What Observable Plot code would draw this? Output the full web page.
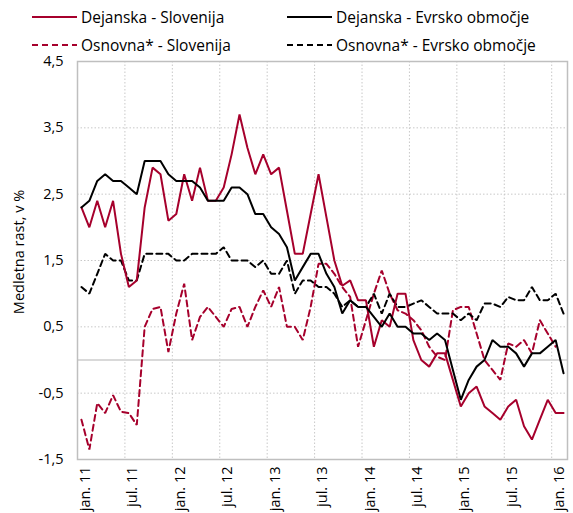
<!DOCTYPE html>
<html>
<head>
<meta charset="utf-8">
<script src="https://cdn.jsdelivr.net/npm/d3@7"></script>
<script src="https://cdn.jsdelivr.net/npm/@observablehq/plot@0.6"></script>
<style>
  body { margin: 0; background: #fff; font-family: "Open Sans", sans-serif; }
  #wrap { position: relative; width: 573px; height: 513px; }
  #legend { position: relative; width: 573px; height: 45px; font-size: 15.5px; color: #000; }
  .item { position: absolute; display: flex; align-items: center; white-space: nowrap; }
  .item svg { margin-right: 4px; }
  #ylabel { position: absolute; left: 18px; top: 252px; transform: translate(-50%, -50%) rotate(-90deg); white-space: nowrap; font-size: 14.5px; color: #000; }
</style>
</head>
<body>
<div id="wrap">
  <div id="legend"></div>
  <div id="chart"></div>
  <div id="ylabel">Medletna rast, v %</div>
</div>
<script>
// Month index 0 = jan. 2011 ... 61 = feb. 2016
const xTickLabels = ["jan. 11","jul. 11","jan. 12","jul. 12","jan. 13","jul. 13","jan. 14","jul. 14","jan. 15","jul. 15","jan. 16"];
const yTicks = [-1.5, -0.5, 0.5, 1.5, 2.5, 3.5, 4.5];

const seriesNames = ["Dejanska - Slovenija", "Dejanska - Evrsko območje", "Osnovna* - Slovenija", "Osnovna* - Evrsko območje"];

const dejanskaSlovenija = [2.3,2.0,2.4,2.0,2.4,1.6,1.1,1.2,2.3,2.9,2.8,2.1,2.2,2.8,2.4,2.9,2.4,2.4,2.6,3.1,3.7,3.2,2.8,3.1,2.8,2.9,2.25,1.6,1.6,2.2,2.8,2.15,1.5,1.12,1.2,0.9,0.9,0.2,0.6,0.5,1.0,1.0,0.3,0.0,-0.1,0.1,0.1,-0.3,-0.7,-0.5,-0.4,-0.7,-0.8,-0.9,-0.7,-0.6,-1.0,-1.2,-0.9,-0.6,-0.8,-0.8];
const dejanskaEvro = [2.3,2.4,2.7,2.8,2.7,2.7,2.6,2.5,3.0,3.0,3.0,2.8,2.7,2.7,2.7,2.6,2.4,2.4,2.4,2.6,2.6,2.5,2.2,2.2,2.0,1.9,1.7,1.2,1.4,1.6,1.6,1.3,1.1,0.7,0.9,0.8,0.8,0.65,0.5,0.7,0.5,0.5,0.4,0.4,0.3,0.4,0.3,-0.15,-0.6,-0.3,-0.1,0.0,0.3,0.2,0.2,0.1,-0.1,0.1,0.1,0.2,0.3,-0.2];
const osnovnaSlovenija = [-0.9,-1.35,-0.65,-0.8,-0.53,-0.78,-0.8,-0.98,0.5,0.77,0.8,0.12,0.7,1.15,0.3,0.65,0.8,0.65,0.5,0.77,0.8,0.5,0.8,1.05,0.8,1.1,0.5,0.5,0.3,0.8,1.45,1.45,1.3,1.1,0.95,0.2,0.6,1.0,1.35,1.0,0.75,0.7,0.6,0.45,0.2,0.05,0.0,0.75,0.8,0.8,0.4,0.0,-0.15,-0.3,0.25,0.2,0.3,0.1,0.6,0.4,0.2];
const osnovnaEvro = [1.1,1.0,1.3,1.6,1.5,1.5,1.2,1.2,1.6,1.6,1.6,1.6,1.5,1.5,1.6,1.6,1.6,1.6,1.7,1.5,1.5,1.5,1.4,1.5,1.3,1.3,1.5,1.0,1.2,1.2,1.1,1.1,1.0,0.8,0.9,0.8,0.8,1.0,0.7,1.0,0.8,0.8,0.85,0.9,0.8,0.7,0.7,0.7,0.6,0.7,0.6,0.85,0.85,0.8,0.95,0.9,0.9,1.1,0.9,0.9,1.0,0.7];

const RED = "#a6002c";
const styles = [
  {color: RED, dash: null},
  {color: "#000", dash: null},
  {color: RED, dash: "6,4"},
  {color: "#000", dash: "6,4"}
];
const allSeries = [dejanskaSlovenija, dejanskaEvro, osnovnaSlovenija, osnovnaEvro];
const nMonths = dejanskaEvro.length;

// Legend
const legendPos = [[32, 17], [287, 17], [32, 45], [287, 45]];
const legend = document.getElementById("legend");
seriesNames.forEach((name, k) => {
  const div = document.createElement("div");
  div.className = "item";
  div.style.left = legendPos[k][0] + "px";
  div.style.top = (legendPos[k][1] - 10) + "px";
  div.style.height = "20px";
  const s = styles[k];
  div.innerHTML = `<svg width="45" height="4"><line x1="0" x2="45" y1="2" y2="2" stroke="${s.color}" stroke-width="2" ${s.dash ? `stroke-dasharray="${s.dash}"` : ""}/></svg><span>${name}</span>`;
  legend.appendChild(div);
});

const tables = allSeries.map((arr, k) => arr.map((v, i) => ({i, v, k})));
// label ticks sit about one month to the right of each half-year boundary
const xTicks = xTickLabels.map((_, j) => j * 6 + 1);
const gridXs = d3.range(6, nMonths, 6);
const gridYs = yTicks.filter(v => v > -1.5 && v < 4.5);

const chart = Plot.plot({
  width: 573,
  height: 468,
  marginTop: 16,
  marginBottom: 54,
  marginLeft: 77,
  marginRight: 6,
  style: {fontFamily: "Open Sans", fontSize: "14.5px", color: "#000", background: "#fff", overflow: "visible"},
  x: {
    type: "linear",
    domain: [0, nMonths],
    ticks: xTicks,
    tickFormat: d => xTickLabels[Math.round((d - 1) / 6)],
    tickRotate: -90,
    tickSize: 0,
    tickPadding: 7,
    label: null
  },
  y: {
    domain: [-1.5, 4.5],
    ticks: yTicks,
    tickFormat: d => d.toFixed(1).replace(".", ","),
    tickSize: 0,
    tickPadding: 14,
    label: null
  },
  marks: [
    Plot.ruleX(gridXs, {x: d => d, stroke: "#c8c8c8", strokeDasharray: "1.5,2", strokeWidth: 1}),
    Plot.ruleY(gridYs, {y: d => d, stroke: "#c8c8c8", strokeDasharray: "1.5,2", strokeWidth: 1}),
    Plot.ruleY([0], {stroke: "#d9d9d9", strokeWidth: 2}),
    Plot.frame({stroke: "#bfbfbf", strokeWidth: 1.5}),
    ...[2, 3, 0, 1].map(k => Plot.line(tables[k], {
      x: d => d.i + 0.5,
      y: "v",
      stroke: styles[k].color,
      strokeWidth: 2,
      strokeDasharray: styles[k].dash || undefined,
      strokeLinejoin: "miter"
    }))
  ]
});
document.getElementById("chart").appendChild(chart);
</script>
</body>
</html>
